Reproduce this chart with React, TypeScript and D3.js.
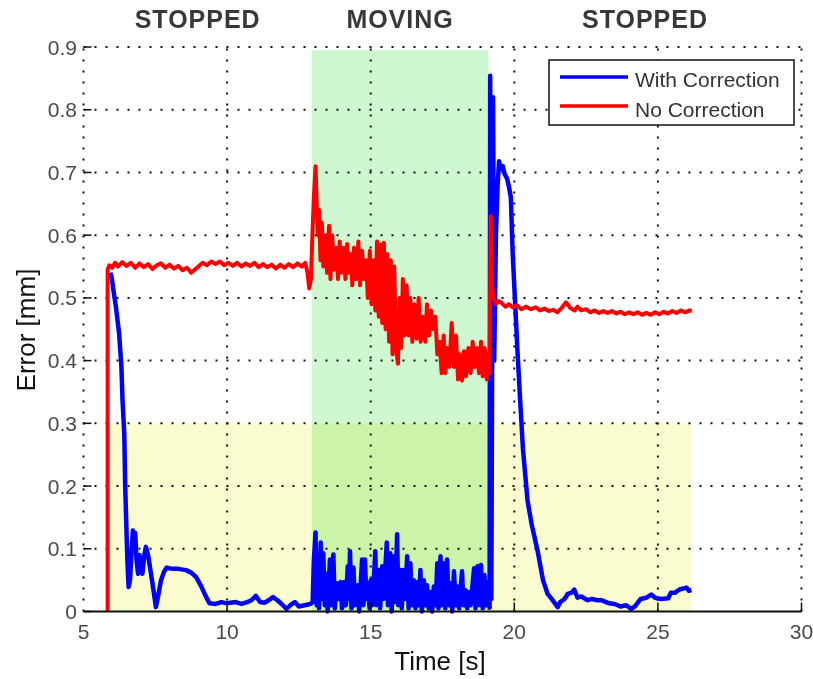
import React from 'react';
import {scaleLinear, line} from 'd3';

const width = 813;
const height = 679;

const xTicks = [5, 10, 15, 20, 25, 30];
const yTicks = [0, 0.1, 0.2, 0.3, 0.4, 0.5, 0.6, 0.7, 0.8, 0.9];

// phases shown on top (time boundaries)
const phaseLabels = ['STOPPED', 'MOVING', 'STOPPED'];
const phaseBounds = [5, 12.95, 19.1, 30];

// shaded areas [t0, t1, e0, e1]
const movingBand = [12.95, 19.1, 0, 0.895];
const thresholdBand = [5.85, 26.15, 0, 0.3];

const seriesNames = ['With Correction', 'No Correction'];
const seriesColors = ['#0000ff', '#ff0000'];

// [time s, error mm]
const withCorrection: [number, number][] = [
  [5.93, 0.54], [5.97, 0.535], [6.05, 0.51], [6.13, 0.485], [6.24, 0.443], [6.32, 0.39], [6.36, 0.336],
  [6.42, 0.283], [6.45, 0.204], [6.5, 0.124], [6.53, 0.08], [6.57, 0.039], [6.62, 0.05], [6.68, 0.1],
  [6.72, 0.129], [6.76, 0.1], [6.8, 0.125], [6.85, 0.08], [6.9, 0.06], [6.95, 0.09], [7.0, 0.07],
  [7.05, 0.06], [7.12, 0.09], [7.17, 0.103], [7.25, 0.09], [7.35, 0.06], [7.45, 0.03], [7.52, 0.007],
  [7.6, 0.025], [7.7, 0.05], [7.8, 0.063], [7.9, 0.07], [8.1, 0.068], [8.3, 0.068], [8.57, 0.066],
  [8.75, 0.062], [8.92, 0.055], [9.1, 0.04], [9.25, 0.025], [9.39, 0.013], [9.6, 0.012], [9.8, 0.015],
  [10.0, 0.013], [10.3, 0.015], [10.5, 0.012], [10.7, 0.015], [10.85, 0.018], [11.0, 0.025], [11.15, 0.015],
  [11.3, 0.014], [11.45, 0.018], [11.6, 0.023], [11.75, 0.018], [11.9, 0.012], [12.07, 0.004], [12.2, 0.01],
  [12.36, 0.015], [12.5, 0.008], [12.7, 0.01], [12.9, 0.012], [12.98, 0.015],
  [13.02, 0.08], [13.08, 0.126], [13.12, 0.01], [13.16, 0.07], [13.2, 0.005], [13.26, 0.11], [13.3, 0.02],
  [13.35, 0.093], [13.4, 0.01], [13.46, 0.06], [13.5, 0.0], [13.58, 0.083], [13.63, 0.01], [13.7, 0.091],
  [13.75, 0.005], [13.82, 0.045], [13.88, 0.02], [13.95, 0.047], [14.0, 0.005], [14.08, 0.047], [14.14, 0.01],
  [14.2, 0.072], [14.24, 0.02], [14.28, 0.096], [14.33, 0.005], [14.4, 0.07], [14.45, 0.01], [14.55, 0.042],
  [14.6, 0.0], [14.7, 0.083], [14.75, 0.01], [14.8, 0.083], [14.85, 0.02], [14.9, 0.045], [14.96, 0.005],
  [15.0, 0.05], [15.06, 0.01], [15.16, 0.096], [15.2, 0.01], [15.28, 0.066], [15.33, 0.005], [15.4, 0.072],
  [15.45, 0.02], [15.56, 0.11], [15.6, 0.01], [15.68, 0.093], [15.73, 0.0], [15.8, 0.088], [15.85, 0.015],
  [15.92, 0.123], [15.96, 0.01], [16.03, 0.066], [16.08, 0.005], [16.15, 0.066], [16.2, 0.02], [16.27, 0.088],
  [16.32, 0.005], [16.38, 0.077], [16.44, 0.01], [16.5, 0.05], [16.56, 0.005], [16.62, 0.047], [16.68, 0.01],
  [16.73, 0.066], [16.78, 0.0], [16.85, 0.05], [16.9, 0.01], [16.96, 0.042], [17.02, 0.005], [17.08, 0.031],
  [17.14, 0.0], [17.2, 0.04], [17.26, 0.01], [17.32, 0.077], [17.36, 0.005], [17.43, 0.088], [17.48, 0.01],
  [17.55, 0.077], [17.6, 0.005], [17.66, 0.083], [17.72, 0.01], [17.78, 0.045], [17.84, 0.0], [17.9, 0.064],
  [17.96, 0.01], [18.02, 0.04], [18.08, 0.005], [18.18, 0.064], [18.23, 0.01], [18.3, 0.034], [18.36, 0.005],
  [18.42, 0.031], [18.48, 0.01], [18.6, 0.069], [18.65, 0.005], [18.72, 0.072], [18.78, 0.01], [18.84, 0.074],
  [18.9, 0.005], [18.96, 0.058], [19.02, 0.01], [19.08, 0.047], [19.14, 0.006],
  [19.16, 0.854], [19.2, 0.02], [19.26, 0.82], [19.3, 0.4], [19.36, 0.6], [19.42, 0.68], [19.47, 0.718],
  [19.53, 0.705], [19.6, 0.71], [19.66, 0.698], [19.75, 0.69], [19.82, 0.676], [19.88, 0.66], [19.94, 0.575],
  [20.02, 0.5], [20.11, 0.416], [20.2, 0.34], [20.3, 0.26], [20.46, 0.177], [20.6, 0.14], [20.81, 0.097],
  [21.0, 0.05], [21.16, 0.028], [21.3, 0.02], [21.51, 0.007], [21.6, 0.015], [21.75, 0.02], [21.86, 0.028],
  [22.0, 0.03], [22.09, 0.035], [22.2, 0.022], [22.33, 0.024], [22.56, 0.018], [22.7, 0.02], [22.9, 0.018],
  [23.03, 0.018], [23.3, 0.013], [23.49, 0.012], [23.7, 0.008], [23.9, 0.01], [24.07, 0.004], [24.2, 0.008],
  [24.4, 0.02], [24.6, 0.022], [24.77, 0.027], [24.9, 0.022], [25.1, 0.02], [25.36, 0.021], [25.45, 0.03],
  [25.6, 0.03], [25.75, 0.035], [26.0, 0.038], [26.08, 0.033], [26.17, 0.034],
];

const noCorrection: [number, number][] = [
  [5.84, 0], [5.84, 0.545], [5.9, 0.552], [6.0, 0.548], [6.1, 0.556], [6.2, 0.55], [6.35, 0.557],
  [6.5, 0.551], [6.65, 0.556], [6.8, 0.548], [6.95, 0.555], [7.1, 0.549], [7.25, 0.554], [7.4, 0.546],
  [7.55, 0.552], [7.7, 0.555], [7.85, 0.548], [8.0, 0.553], [8.15, 0.547], [8.3, 0.551], [8.45, 0.544],
  [8.6, 0.548], [8.75, 0.54], [8.85, 0.544], [9.0, 0.55], [9.15, 0.556], [9.3, 0.552], [9.45, 0.558],
  [9.6, 0.554], [9.75, 0.558], [9.9, 0.552], [10.05, 0.556], [10.2, 0.551], [10.35, 0.556], [10.5, 0.55],
  [10.65, 0.555], [10.8, 0.551], [10.95, 0.556], [11.1, 0.549], [11.25, 0.554], [11.4, 0.549], [11.55, 0.553],
  [11.7, 0.547], [11.85, 0.553], [12.0, 0.548], [12.15, 0.554], [12.3, 0.549], [12.45, 0.555], [12.6, 0.55],
  [12.72, 0.556], [12.8, 0.54], [12.86, 0.515], [12.92, 0.53], [12.97, 0.6], [13.02, 0.66], [13.08, 0.71],
  [13.12, 0.65], [13.16, 0.6], [13.2, 0.64], [13.25, 0.56], [13.3, 0.62], [13.35, 0.55], [13.42, 0.6],
  [13.48, 0.54], [13.55, 0.615], [13.6, 0.53], [13.66, 0.6], [13.72, 0.545], [13.8, 0.58], [13.86, 0.53],
  [13.92, 0.59], [13.98, 0.54], [14.05, 0.58], [14.12, 0.53], [14.18, 0.586], [14.24, 0.54], [14.3, 0.57],
  [14.36, 0.52], [14.42, 0.58], [14.5, 0.53], [14.57, 0.59], [14.63, 0.52], [14.7, 0.575], [14.77, 0.53],
  [14.84, 0.56], [14.9, 0.5], [14.97, 0.575], [15.03, 0.49], [15.1, 0.56], [15.16, 0.48], [15.22, 0.59],
  [15.28, 0.47], [15.34, 0.585], [15.4, 0.46], [15.46, 0.588], [15.52, 0.45], [15.58, 0.57], [15.64, 0.43],
  [15.7, 0.56], [15.76, 0.41], [15.82, 0.55], [15.88, 0.42], [15.95, 0.395], [16.0, 0.5], [16.06, 0.42],
  [16.12, 0.53], [16.18, 0.44], [16.25, 0.52], [16.32, 0.44], [16.38, 0.5], [16.45, 0.43], [16.52, 0.49],
  [16.6, 0.435], [16.67, 0.5], [16.74, 0.43], [16.82, 0.47], [16.9, 0.43], [16.96, 0.49], [17.03, 0.44],
  [17.1, 0.48], [17.18, 0.45], [17.25, 0.47], [17.32, 0.41], [17.4, 0.43], [17.47, 0.38], [17.54, 0.44],
  [17.6, 0.38], [17.67, 0.42], [17.74, 0.39], [17.82, 0.46], [17.9, 0.39], [17.97, 0.44], [18.04, 0.37],
  [18.1, 0.41], [18.18, 0.368], [18.25, 0.415], [18.32, 0.375], [18.4, 0.42], [18.48, 0.38], [18.55, 0.43],
  [18.62, 0.39], [18.7, 0.42], [18.77, 0.38], [18.84, 0.43], [18.9, 0.375], [18.97, 0.42], [19.04, 0.37],
  [19.1, 0.41], [19.14, 0.38], [19.18, 0.63], [19.22, 0.52], [19.28, 0.5], [19.36, 0.49], [19.45, 0.495],
  [19.53, 0.493], [19.6, 0.49], [19.7, 0.486], [19.8, 0.49], [19.95, 0.485], [20.1, 0.488], [20.25, 0.482],
  [20.4, 0.486], [20.58, 0.482], [20.75, 0.485], [20.9, 0.48], [21.05, 0.483], [21.2, 0.479], [21.35, 0.481],
  [21.5, 0.477], [21.65, 0.484], [21.8, 0.493], [21.95, 0.484], [22.1, 0.48], [22.2, 0.486], [22.33, 0.48],
  [22.5, 0.482], [22.65, 0.477], [22.8, 0.48], [22.95, 0.476], [23.1, 0.479], [23.25, 0.476], [23.4, 0.479],
  [23.55, 0.475], [23.7, 0.478], [23.85, 0.474], [24.0, 0.477], [24.15, 0.474], [24.3, 0.477], [24.45, 0.473],
  [24.6, 0.476], [24.75, 0.473], [24.9, 0.477], [25.05, 0.474], [25.2, 0.478], [25.35, 0.475], [25.5, 0.479],
  [25.65, 0.476], [25.8, 0.48], [25.95, 0.477], [26.1, 0.48], [26.18, 0.479],
];

const font = '"Liberation Sans", Arial, sans-serif';

export default function App() {
  const x = scaleLinear().domain([5, 30]).range([83.5, 801.5]);
  const y = scaleLinear().domain([0, 0.9]).range([611.5, 47]);

  const path = line<[number, number]>()
    .x(d => x(d[0]))
    .y(d => y(d[1]));

  const [x0, x1] = x.range();
  const [y0, y1] = y.range();

  return (
    <div style={{position: 'absolute', left: 0, top: 0}}>
      <svg width={width} height={height} style={{display: 'block', background: '#fff'}}>
        {/* shaded bands */}
        <rect x={x(thresholdBand[0])} y={y(thresholdBand[3])}
              width={x(thresholdBand[1]) - x(thresholdBand[0])}
              height={y(thresholdBand[2]) - y(thresholdBand[3])} fill="#fbfbd0"/>
        <rect x={x(movingBand[0])} y={y(movingBand[3])}
              width={x(movingBand[1]) - x(movingBand[0])}
              height={y(movingBand[2]) - y(movingBand[3])} fill="#d0f8d0"
              style={{mixBlendMode: 'multiply'}}/>

        {/* dotted grid */}
        {xTicks.map(t => (
          <line key={'gx' + t} x1={x(t)} x2={x(t)} y1={y0} y2={y1}
                stroke="#111" strokeWidth={2} strokeDasharray="2 9"/>
        ))}
        {yTicks.filter(v => v > 0).map(v => (
          <line key={'gy' + v} x1={x0} x2={x1} y1={y(v)} y2={y(v)}
                stroke="#111" strokeWidth={2} strokeDasharray="2 9"/>
        ))}

        {/* series */}
        <path d={path(withCorrection) || ''} fill="none" stroke={seriesColors[0]} strokeWidth={4.5}
              strokeLinejoin="round"/>
        <path d={path(noCorrection) || ''} fill="none" stroke={seriesColors[1]} strokeWidth={4}
              strokeLinejoin="round"/>

        {/* axes */}
        <line x1={x0} x2={x1} y1={y0} y2={y0} stroke="#111" strokeWidth={2}/>
        {xTicks.slice(1).map(t => (
          <line key={'tx' + t} x1={x(t)} x2={x(t)} y1={y0} y2={y0 - 9} stroke="#111" strokeWidth={1.5}/>
        ))}
        {yTicks.map(v => (
          <line key={'ty' + v} x1={x0} x2={x0 + 8} y1={y(v)} y2={y(v)} stroke="#111" strokeWidth={1.5}/>
        ))}
        {xTicks.map(t => (
          <text key={'lx' + t} x={x(t)} y={639} textAnchor="middle" fontFamily={font} fontSize={21}
                fill="#4a4a4a">{t}</text>
        ))}
        {yTicks.map(v => (
          <text key={'ly' + v} x={77} y={y(v) + 7.5} textAnchor="end" fontFamily={font} fontSize={21}
                fill="#4a4a4a">{v === 0 ? '0' : v.toFixed(1)}</text>
        ))}
        <text x={440} y={670} textAnchor="middle" fontFamily={font} fontSize={26} fill="#111">Time [s]</text>
        <text transform={`translate(35,330) rotate(-90)`} textAnchor="middle" fontFamily={font}
              fontSize={26} fill="#111">Error [mm]</text>

        {/* phase titles */}
        {phaseLabels.map((p, i) => (
          <text key={'p' + i} x={x((phaseBounds[i] + phaseBounds[i + 1]) / 2)} y={28} textAnchor="middle"
                fontFamily={font} fontSize={25} fontWeight="bold" letterSpacing={1} fill="#383838">{p}</text>
        ))}

        {/* legend */}
        <rect x={549} y={60} width={245} height={65} fill="#fff" stroke="#111" strokeWidth={1.5}/>
        {seriesNames.map((name, i) => (
          <g key={name}>
            <line x1={560} x2={628} y1={77 + i * 29} y2={77 + i * 29} stroke={seriesColors[i]} strokeWidth={3.5}/>
            <text x={635} y={87 + i * 30} fontFamily={font} fontSize={21} fill="#333">{name}</text>
          </g>
        ))}
      </svg>
    </div>
  );
}
